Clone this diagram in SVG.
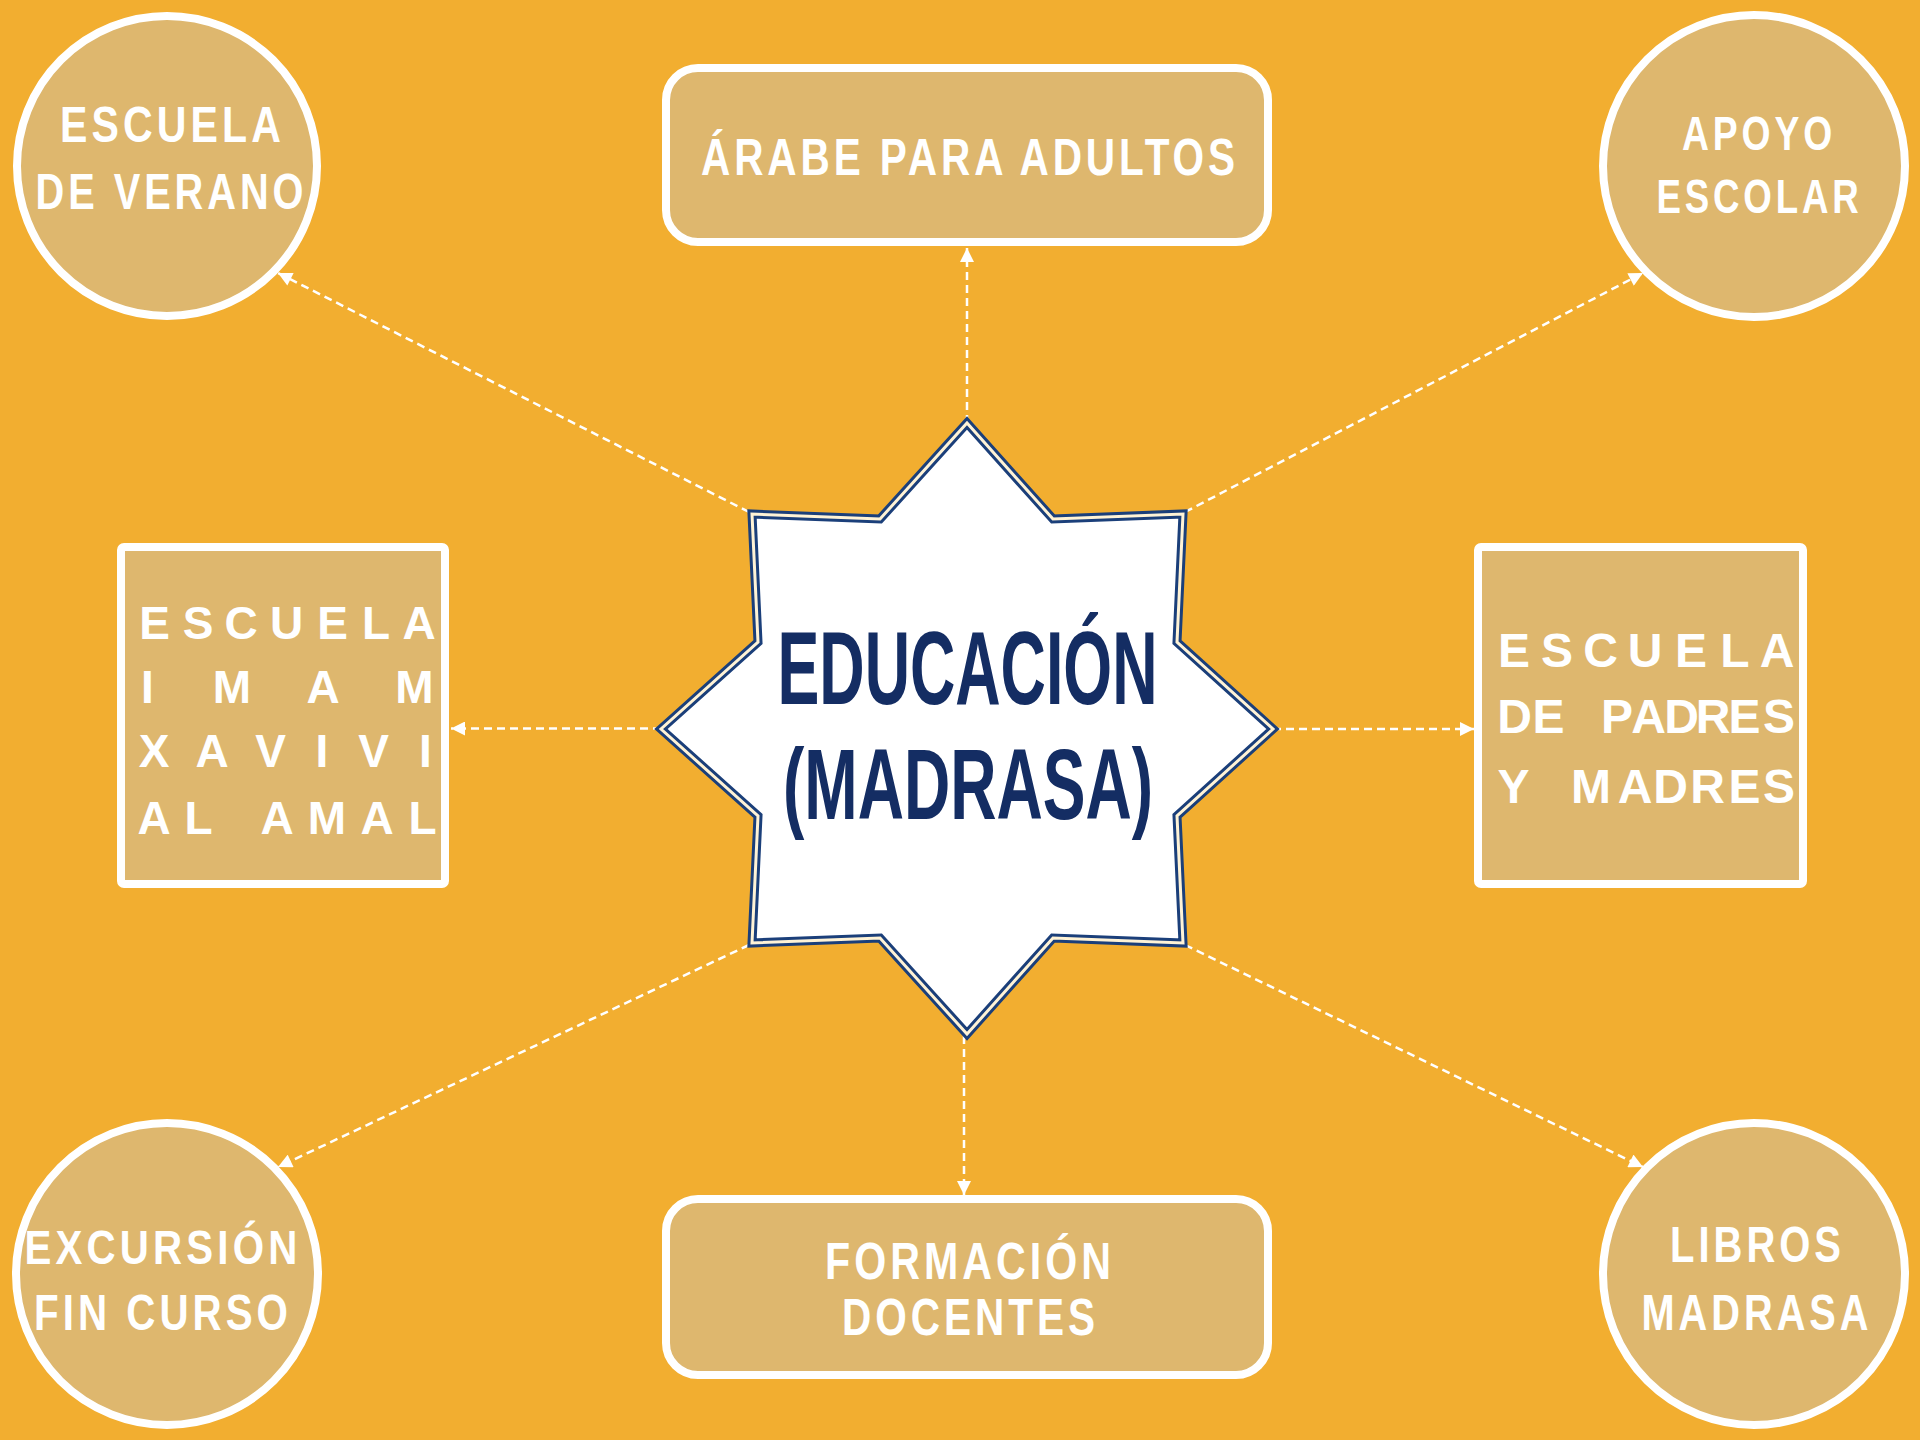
<svg xmlns="http://www.w3.org/2000/svg" width="1920" height="1440" viewBox="0 0 1920 1440">
<defs>
<style>
.node{fill:#DEB76E;stroke:#FFFFFF;stroke-width:8}
.lbl{font-family:"Liberation Sans",Arial,sans-serif;font-weight:bold;fill:#FFFFFF;text-anchor:middle;letter-spacing:5px}
.grid{font-family:"Liberation Sans",Arial,sans-serif;font-weight:bold;fill:#FFFFFF;text-anchor:middle}
.core{font-family:"Liberation Sans",Arial,sans-serif;font-weight:bold;fill:#142D63;text-anchor:middle}
.conn{fill:none;stroke:#FFFFFF;stroke-width:2.5;stroke-dasharray:8 5;marker-end:url(#arr)}
</style>
<marker id="arr" viewBox="0 0 10 10" refX="10" refY="5" markerWidth="15" markerHeight="14" markerUnits="userSpaceOnUse" orient="auto">
<path d="M0,0 L10,5 L0,10 z" fill="#FFFFFF"/>
</marker>
</defs>
<rect x="0" y="0" width="1920" height="1440" fill="#F2AE30"/>

<g id="connectors">
<line class="conn" x1="967" y1="423" x2="967" y2="248"/>
<line class="conn" x1="964" y1="1036" x2="964" y2="1195"/>
<line class="conn" x1="661" y1="728.5" x2="451" y2="728.5"/>
<line class="conn" x1="1273" y1="729" x2="1474" y2="729"/>
<line class="conn" x1="749" y1="512" x2="278" y2="273"/>
<line class="conn" x1="1185" y1="512" x2="1643" y2="273"/>
<line class="conn" x1="749" y1="945" x2="278" y2="1167"/>
<line class="conn" x1="1185" y1="945" x2="1643" y2="1167"/>
</g>

<g id="center">
<polygon points="967,423 1053,519 1183,514 1177,642 1273,729 1177,816 1183,943 1053,938 967,1034 880,938 752,943 758,816 661,729 758,642 752,514 880,519" fill="#FFFFFF" stroke="#1B3F7A" stroke-width="9" stroke-linejoin="miter"/>
<polygon points="967,423 1053,519 1183,514 1177,642 1273,729 1177,816 1183,943 1053,938 967,1034 880,938 752,943 758,816 661,729 758,642 752,514 880,519" fill="none" stroke="#FFF3D6" stroke-width="3" stroke-linejoin="miter"/>
<text class="core" x="967.5" y="704" font-size="104" textLength="380" lengthAdjust="spacingAndGlyphs">EDUCACIÓN</text>
<text class="core" x="968" y="819" font-size="100" textLength="370" lengthAdjust="spacingAndGlyphs">(MADRASA)</text>
</g>

<g id="arabe-adultos">
<rect class="node" x="666" y="68" width="602" height="174" rx="32" ry="32"/>
<text class="lbl" x="970" y="175" font-size="52" textLength="538" lengthAdjust="spacingAndGlyphs">ÁRABE PARA ADULTOS</text>
</g>

<g id="formacion-docentes">
<rect class="node" x="666" y="1199" width="602" height="176" rx="32" ry="32"/>
<text class="lbl" x="970" y="1279" font-size="51" textLength="290" lengthAdjust="spacingAndGlyphs">FORMACIÓN</text>
<text class="lbl" x="970.6" y="1335" font-size="51" textLength="257" lengthAdjust="spacingAndGlyphs">DOCENTES</text>
</g>

<g id="escuela-verano">
<circle class="node" cx="167" cy="166" r="150"/>
<text class="lbl" x="172.5" y="142" font-size="50" textLength="225" lengthAdjust="spacingAndGlyphs">ESCUELA</text>
<text class="lbl" x="171.5" y="209" font-size="50" textLength="272" lengthAdjust="spacingAndGlyphs">DE VERANO</text>
</g>

<g id="apoyo-escolar">
<circle class="node" cx="1754" cy="166" r="151"/>
<text class="lbl" x="1759" y="150" font-size="48" textLength="154" lengthAdjust="spacingAndGlyphs">APOYO</text>
<text class="lbl" x="1759.5" y="213" font-size="48" textLength="206" lengthAdjust="spacingAndGlyphs">ESCOLAR</text>
</g>

<g id="excursion">
<circle class="node" cx="167" cy="1274" r="151"/>
<text class="lbl" x="163" y="1264" font-size="48" textLength="277" lengthAdjust="spacingAndGlyphs">EXCURSIÓN</text>
<text class="lbl" x="163" y="1330" font-size="50" textLength="258" lengthAdjust="spacingAndGlyphs">FIN CURSO</text>
</g>

<g id="libros-madrasa">
<circle class="node" cx="1754" cy="1274" r="151"/>
<text class="lbl" x="1757.5" y="1262" font-size="50" textLength="175" lengthAdjust="spacingAndGlyphs">LIBROS</text>
<text class="lbl" x="1757" y="1330" font-size="50" textLength="231" lengthAdjust="spacingAndGlyphs">MADRASA</text>
</g>

<g id="escuela-imam">
<rect class="node" x="121" y="547" width="324" height="337" rx="3" ry="3"/>
<text class="grid" font-size="46" y="639" x="154.5 198 241 286.5 332.5 376 419">ESCUELA</text>
<text class="grid" font-size="46" y="703" x="147.5 232 323 414.5">IMAM</text>
<text class="grid" font-size="46" y="767" x="154 212 270.5 322 373.5 425.5">XAVIVI</text>
<text class="grid" font-size="46" y="834" x="154 198.5 277 327 377 422.5">ALAMAL</text>
</g>

<g id="escuela-padres">
<rect class="node" x="1478" y="547" width="325" height="337" rx="3" ry="3"/>
<text class="grid" font-size="48" y="667" x="1514 1557 1600.5 1645 1691 1735 1777">ESCUELA</text>
<text class="grid" font-size="48" y="733" x="1514.5 1548.5 1617 1648.5 1681.5 1713 1744.5 1779">DEPADRES</text>
<text class="grid" font-size="48" y="803" x="1513.5 1591 1635 1670.5 1707.5 1744.5 1779">YMADRES</text>
</g>
</svg>
